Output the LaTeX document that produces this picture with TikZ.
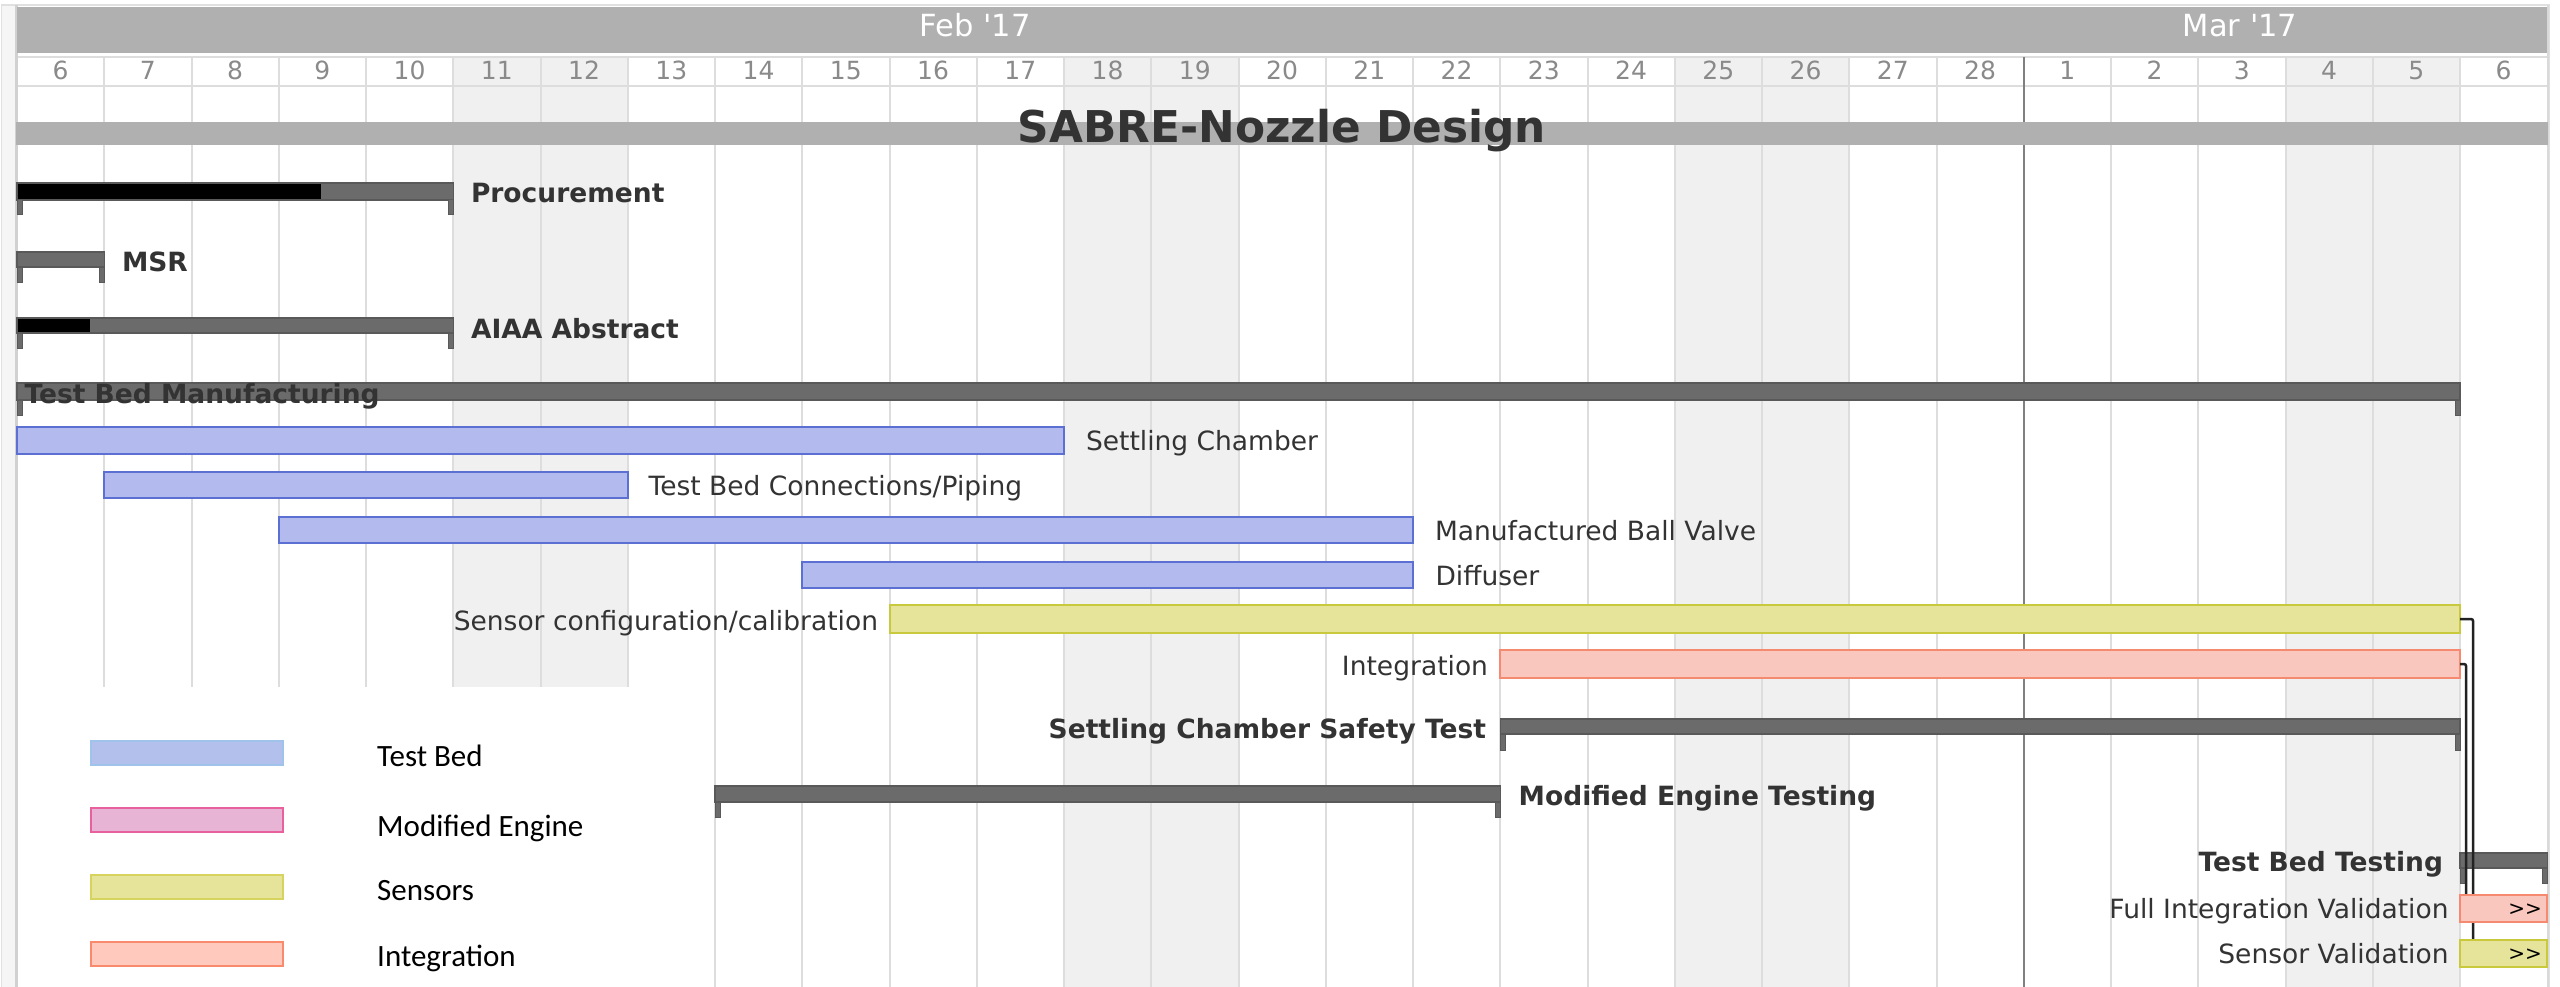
\documentclass[tikz,border=0pt]{standalone}
\usepackage{fontspec}
\setmainfont{DejaVu Sans}[Ligatures=TeXOff]
\newfontfamily\legfont{Carlito}
\usetikzlibrary{calc}
\definecolor{gridc}{HTML}{DDDDDD}
\definecolor{wkend}{HTML}{F0F0F0}
\definecolor{bandc}{HTML}{B0B0B0}
\definecolor{sumfill}{HTML}{6B6B6B}
\definecolor{sumdraw}{HTML}{595959}
\definecolor{txt}{HTML}{333333}
\definecolor{daytxt}{HTML}{8A8A8A}
\definecolor{tbfill}{HTML}{B3BBEE}
\definecolor{tbdraw}{HTML}{5B70D2}
\definecolor{snfill}{HTML}{E6E39B}
\definecolor{sndraw}{HTML}{C9C93E}
\definecolor{infill}{HTML}{F9C7BD}
\definecolor{indraw}{HTML}{F58A70}
\definecolor{lgtbfill}{HTML}{B3C0EC}
\definecolor{lgtbdraw}{HTML}{9FC3EA}
\definecolor{lgmefill}{HTML}{E8B4D6}
\definecolor{lgmedraw}{HTML}{E8609C}
\definecolor{lgsnfill}{HTML}{E6E39A}
\definecolor{lgsndraw}{HTML}{D6D45E}
\definecolor{lginfill}{HTML}{FFC9BE}
\definecolor{lgindraw}{HTML}{FA8A6E}
\definecolor{marline}{HTML}{808080}
\definecolor{conncol}{HTML}{222222}
\tikzset{
  lbl/.style={anchor=base west, inner sep=0pt, outer sep=0pt, text=txt, font=\fontsize{26.5}{30}\selectfont},
  lblr/.style={lbl, anchor=base east},
  blbl/.style={lbl, font=\fontsize{26.5}{30}\selectfont\bfseries},
  blblr/.style={blbl, anchor=base east},
  daylbl/.style={anchor=base, inner sep=0pt, text=daytxt, font=\fontsize{25}{28}\selectfont},
  monlbl/.style={anchor=base, inner sep=0pt, text=white, font=\fontsize{30.5}{34}\selectfont},
  barbase/.style={anchor=north west, inner sep=0pt, outer sep=0pt, line width=2pt},
  tbbar/.style={barbase, fill=tbfill, draw=tbdraw},
  snbar/.style={barbase, fill=snfill, draw=sndraw},
  inbar/.style={barbase, fill=infill, draw=indraw},
  sumbar/.style={barbase, fill=sumfill, draw=sumdraw, line width=1.5pt},
  gridline/.style={draw=gridc, line width=2pt},
  conn/.style={draw=conncol, line width=2.5pt, rounded corners=2pt},
  legsw/.style={anchor=north west, inner sep=0pt, outer sep=0pt, line width=2pt, minimum width=192pt, minimum height=24pt},
  legtxt/.style={anchor=base west, inner sep=0pt, text=black, font=\legfont\fontsize{31}{34}\selectfont},
  moretxt/.style={anchor=base east, inner sep=0pt, text=black, font=\fontsize{20}{22}\selectfont}
}
% task bar: name, style, start day, number of days, top, bottom
\newcommand\tbar[6]{%
  \node[#2, minimum width={#4*87.25pt}, minimum height={(#6-#5)*1pt}] (#1) at ({17+87.25*#3},#5) {};}
% summary bar: name, start day, number of days, top, bottom, tick bottom
\newcommand\sbar[6]{%
  \node[sumbar, minimum width={#3*87.25pt}, minimum height={(#5-#4)*1pt}] (#1) at ({17+87.25*#2},#4) {};
  \filldraw[fill=sumfill, draw=sumdraw, line width=1pt] (#1.south west) rectangle ++(5,{#6-#5});
  \filldraw[fill=sumfill, draw=sumdraw, line width=1pt] (#1.south east) rectangle ++(-5,{#6-#5});}
\begin{document}
\begin{tikzpicture}[x=1pt,y=-1pt]
\useasboundingbox (0,0) rectangle (2560,987);
\fill[white] (0,0) rectangle (2560,987);
% outer frame and left strip
\fill[black!4] (2,5) rectangle (16,987);
\draw[black!12, line width=1.5pt] (1.5,987) -- (1.5,5) -- (2549.5,5) -- (2549.5,987);
% weekend shading
\foreach \d in {5,6,12,13,19,20,26,27}
  \fill[wkend] ({17+87.25*\d},57) rectangle ({17+87.25*(\d+1)},987);
% grid lines
\foreach \d in {1,...,28}
  \draw[gridline] ({17+87.25*\d},57) -- ({17+87.25*\d},987);
\draw[gridline] (17,57) -- (2547,57);
\draw[gridline] (17,86.5) -- (2547,86.5);
\draw[draw=black!18, line width=2.5pt] (16.5,5) -- (16.5,987);
\draw[draw=black!15, line width=2pt] (2547.5,5) -- (2547.5,987);
% month boundary
\draw[draw=marline, line width=2pt] ({17+87.25*23},57) -- ({17+87.25*23},987);
% legend background
\fill[white] (18.5,687) rectangle (660,987);
% month band
\fill[bandc] (17,7) rectangle (2547,53);
\node[monlbl] (febl) at (975,37) {Feb '17};
\node[monlbl] (marl) at (2240,37) {Mar '17};
% day numbers
\foreach \n [count=\i from 0] in {6,7,8,9,10,11,12,13,14,15,16,17,18,19,20,21,22,23,24,25,26,27,28,1,2,3,4,5,6}
  \node[daylbl] (day\i) at ({17+87.25*(\i+0.5)},80) {\n};
% title band
\fill[bandc] (16,122) rectangle (2548,145);
\node[anchor=base, inner sep=0pt, text=txt, font=\fontsize{43.8}{48}\selectfont\bfseries] (title) at (1282,143) {SABRE-Nozzle Design};
% summary bars
\sbar{proc}{0}{5}{183}{200}{215}
\fill[black] ($(proc.north west)+(1,1)$) rectangle ($(proc.south west)+(304,-1)$);
\sbar{msr}{0}{1}{252}{267}{282}
\sbar{aiaa}{0}{5}{318}{333}{348}
\fill[black] ($(aiaa.north west)+(1,1)$) rectangle ($(aiaa.south west)+(73,-1)$);
\sbar{tbm}{0}{28}{383}{400}{415}
\sbar{scst}{17}{11}{719}{734}{750}
\sbar{met}{8}{9}{786}{802}{817}
\sbar{tbt}{28}{1}{853}{868}{883}
% task bars
\tbar{sch}{tbbar}{0}{12}{427}{454}
\tbar{tbc}{tbbar}{1}{6}{472}{498}
\tbar{mbv}{tbbar}{3}{13}{517}{543}
\tbar{dif}{tbbar}{9}{7}{562}{588}
\tbar{scc}{snbar}{10}{18}{605}{633}
\tbar{int}{inbar}{17}{11}{650}{678}
% connectors
\draw[conn] (scc.east) -| ($(scc.east)+(13,321)$);
\draw[conn] (int.east) -| ($(int.east)+(6,231)$);
\tbar{fiv}{inbar}{28}{1}{895}{922}
\tbar{sv}{snbar}{28}{1}{940}{967}
\node[moretxt] (fivm) at (2542,915) {>>};
\node[moretxt] (svm) at (2542,960) {>>};
% labels
\node[blbl] (lproc) at (471,203) {Procurement};
\node[blbl] (lmsr) at (122,271) {MSR};
\node[blbl] (laiaa) at (471,338) {AIAA Abstract};
\node[blbl] (ltbm) at (24.5,403) {Test Bed Manufacturing};
\node[lbl] (lsch) at (1086,450) {Settling Chamber};
\node[lbl] (ltbc) at (648.6,495) {Test Bed Connections/Piping};
\node[lbl] (lmbv) at (1435,540) {Manufactured Ball Valve};
\node[lbl] (ldif) at (1435.5,585) {Diffuser};
\node[lblr] (lscc) at (878,630) {Sensor configuration/calibration};
\node[lblr] (lint) at (1488,675) {Integration};
\node[blblr] (lscst) at (1486,738) {Settling Chamber Safety Test};
\node[blbl] (lmet) at (1518.7,805) {Modified Engine Testing};
\node[blblr] (ltbt) at (2443,871) {Test Bed Testing};
\node[lblr] (lfiv) at (2448.5,918) {Full Integration Validation};
\node[lblr] (lsv) at (2448.5,963) {Sensor Validation};
% legend
\node[legsw, fill=lgtbfill, draw=lgtbdraw] (sw1) at (91,741) {};
\node[legsw, fill=lgmefill, draw=lgmedraw] (sw2) at (91,808) {};
\node[legsw, fill=lgsnfill, draw=lgsndraw] (sw3) at (91,875) {};
\node[legsw, fill=lginfill, draw=lgindraw] (sw4) at (91,942) {};
\node[legtxt] (lg1) at (377,766.7) {Test Bed};
\node[legtxt] (lg2) at (377,836.7) {Modified Engine};
\node[legtxt] (lg3) at (377,900) {Sensors};
\node[legtxt] (lg4) at (377,966.7) {Integration};
\end{tikzpicture}
\end{document}
